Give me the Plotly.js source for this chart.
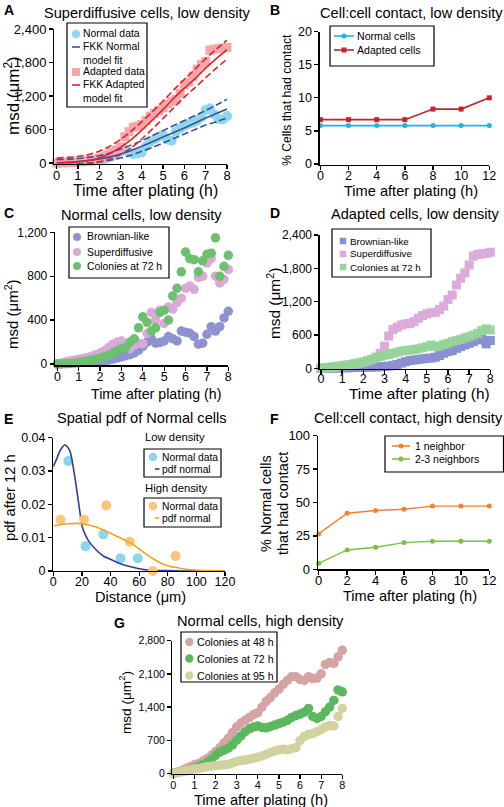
<!DOCTYPE html>
<html><head><meta charset="utf-8">
<script src="https://cdn.plot.ly/plotly-3.0.1.min.js"></script>
<style>html,body{margin:0;padding:0;background:#fff}#chart{width:504px;height:807px}</style>
</head><body><div id="chart"></div>
<script>
// ---------- DATA ----------
const TIME = [0,0.2,0.4,0.6,0.8,1,1.2,1.4,1.6,1.8,2,2.2,2.4,2.6,2.8,3,3.2,3.4,3.6,3.8,4,4.2,4.4,4.6,4.8,5,5.2,5.4,5.6,5.8,6,6.2,6.4,6.6,6.8,7,7.2,7.4,7.6,7.8,8];
// Panel A
const A_normal  = [0,5,10,12,15,20,25,30,35,45,55,70,90,120,160,210,240,200,160,170,190,300,380,420,470,500,420,400,560,620,670,700,720,760,820,950,980,870,790,780,840];
const A_adapted = [0,5,10,15,20,25,30,40,50,65,90,110,150,190,230,290,470,560,640,660,690,760,840,890,940,990,1060,1100,1140,1250,1400,1450,1550,1680,1760,1820,2020,2040,2050,2060,2070];
const FIT_TIME  = [0,0.5,1,1.5,2,2.5,3,3.5,4,4.5,5,5.5,6,6.5,7,7.5,8];
const A_normFit   = [5,12,25,45,72,110,161,225,299,380,466,545,627,715,806,885,967];
const A_normUpper = [60,65,80,100,130,180,250,320,400,490,580,670,760,850,940,1040,1140];
const A_normLower = [-40,-30,-20,0,20,50,90,140,210,280,360,440,520,600,680,740,806];
const A_adFit     = [5,10,20,45,90,170,280,420,590,770,960,1160,1340,1510,1700,1870,2030];
const A_adUpper   = [90,100,120,150,210,300,420,570,740,920,1110,1310,1500,1680,1870,2040,2200];
const A_adLower   = [-40,-40,-30,-10,20,70,150,270,430,610,800,990,1180,1350,1530,1700,1860];
// Panel B
const B_time    = [0,2,4,6,8,10,12];
const B_normal  = [5.8,5.8,5.8,5.8,5.8,5.8,5.8];
const B_adapted = [6.7,6.7,6.7,6.7,8.3,8.3,10.0];
// Panel C
const C_brownian = [0,2,5,8,10,12,15,18,20,22,25,30,35,45,55,65,75,85,100,125,160,200,230,190,195,210,250,230,210,300,290,280,250,180,190,270,340,300,340,420,480];
const C_superdiff = [0,10,20,28,35,42,50,58,70,85,100,120,150,180,200,210,170,140,170,190,185,280,470,400,490,370,520,500,560,600,690,710,680,790,800,920,960,800,740,770,860];
const C_colonies = [0,0,2,5,10,15,20,28,35,45,55,65,80,100,120,140,150,200,230,330,430,380,300,330,470,490,400,620,690,840,1020,960,950,840,940,1000,1010,1150,800,890,990];
// Panel D
const D_brownian = [0,0,2,4,6,8,10,12,14,16,18,20,22,25,28,32,40,55,70,95,120,140,150,160,170,180,185,200,230,270,300,320,360,390,420,450,480,510,520,440,500];
const D_superdiff = [0,5,10,20,30,45,55,65,75,90,110,130,160,200,270,400,580,700,740,780,800,810,840,900,950,980,1000,1010,1060,1120,1240,1320,1500,1620,1720,1860,2020,2050,2060,2070,2090];
const D_colonies = [0,10,20,30,40,50,60,70,85,100,115,135,160,185,210,235,250,270,290,310,320,330,340,350,370,390,420,390,400,430,450,480,500,520,550,570,600,630,680,710,690];
// Panel E
const E_lowX  = [10.5,22.5,35,47,59];
const E_lowY  = [0.033,0.0074,0.011,0.0038,0.0038];
const E_highX = [5,21.5,37,53.5,69.5,85.5];
const E_highY = [0.0154,0.0154,0.0197,0.0088,0,0.0045];
const E_lowPdfX = [0,2.5,5,8,10,12,14,16,18,20,22,25,30,35,40,45,50,60,70,80,90,100,110,120];
const E_lowPdfY = [0.0313,0.0338,0.0363,0.0378,0.0372,0.0355,0.031,0.0255,0.0195,0.0137,0.0112,0.0088,0.0063,0.0045,0.0035,0.0025,0.0017,0.0007,0.0002,0.0001,0,0,0,0];
const E_highPdfX = [0,10,20,30,40,45,50,55,60,65,70,75,80,85,90,100,110,120];
const E_highPdfY = [0.0136,0.0142,0.0142,0.0132,0.0113,0.0103,0.0093,0.0082,0.0066,0.005,0.0036,0.0024,0.0016,0.0011,0.0007,0.0003,0.0001,0];
// Panel F
const F_time = [0,2,4,6,8,10,12];
const F_one  = [26.5,42,44,45,47.3,47.3,47.3];
const F_two  = [4.5,14.5,16.5,20,21,21,21];
// Panel G
const G_48 = [0,30,60,100,140,180,210,260,310,380,460,540,640,740,860,980,1060,1120,1180,1240,1280,1400,1520,1600,1700,1780,1880,1960,2040,2040,1980,1960,2040,2000,2010,2100,2300,2340,2320,2460,2600];
const G_72 = [0,15,35,55,80,105,140,180,230,290,380,450,490,530,600,700,790,880,940,980,1000,970,960,990,1020,1050,1080,1120,1180,1220,1250,1290,1370,1200,1160,1200,1300,1400,1540,1760,1720];
const G_95 = [0,20,40,60,75,90,100,120,140,150,160,170,180,190,220,250,270,280,300,320,340,370,400,440,470,500,510,500,520,540,690,780,820,840,880,920,980,1010,1000,1200,1370];

// ---------- HELPERS ----------
const W = 504, H = 807;
const FONT = '"Liberation Sans", Arial, Helvetica, sans-serif';
const PX = p => p / W, PY = p => 1 - p / H;
const xd = (l, r) => [l / W, r / W];
const yd = (t, b) => [1 - b / H, 1 - t / H];

function baseAxis(range, dtick, tsize, anchor) {
  return {range: range, dtick: dtick, tick0: 0, anchor: anchor,
    showline: true, linecolor: '#000', linewidth: 1.3, ticks: 'outside', ticklen: 4, tickwidth: 1.3, tickcolor: '#000',
    showgrid: false, zeroline: false, fixedrange: true,
    tickfont: {family: FONT, size: tsize, color: '#000', weight: 'normal'}};
}
function xAxis(dom, range, dtick, tsize, anchor, lstand) {
  const a = baseAxis(range, dtick, tsize, anchor);
  a.domain = xd(dom[0], dom[1]);
  a.ticklabelstandoff = lstand || 0;
  return a;
}
function yAxis(dom, range, dtick, tsize, anchor, fmt) {
  const a = baseAxis(range, dtick, tsize, anchor);
  a.domain = yd(dom[0], dom[1]);
  if (fmt) a.tickformat = fmt;
  return a;
}
function sc(x, y, xa, ya, name, marker, extra) {
  return Object.assign({type: 'scatter', mode: 'markers', x: x, y: y, xaxis: xa, yaxis: ya, name: name,
    marker: marker, cliponaxis: false, hoverinfo: 'skip'}, extra || {});
}
function ln(x, y, xa, ya, name, color, dash) {
  return {type: 'scatter', mode: 'lines', x: x, y: y, xaxis: xa, yaxis: ya, name: name,
    line: {color: color, width: 1.6, dash: dash || 'solid', shape: 'spline', smoothing: 0.6}, hoverinfo: 'skip'};
}

const TT = 'Time after plating (h)';
const MSD = 'msd (μm<sup>2</sup>)';

// colours
const cyanA = '#8fd7eb', pinkA = '#f5a6ab', blueA = '#3a50a2', redA = '#e3232a';
const cyanB = '#1db4de', redB = '#c0262d';
const brC = '#8e92d1', suC = '#dba9d8', coC = '#6cc06f';
const brD = '#8b90d3', suD = '#dcaadb', coD = '#95d498';
const cyE = '#8bd6ec', orE = '#fbc57a', blE = '#2f3f93', olE = '#f6a11a';
const orF = '#f4822f', grF = '#79c043';
const g48 = '#d6a3a5', g72 = '#5cb85f', g95 = '#d2d1a0';

const traces = [];
// A
traces.push(sc(TIME, A_normal, 'x', 'y', 'Normal data', {symbol: 'circle', size: 10, color: cyanA}));
traces.push(sc(TIME, A_adapted, 'x', 'y', 'Adapted data', {symbol: 'square', size: 9, color: pinkA}));
traces.push(ln(FIT_TIME, A_normFit, 'x', 'y', 'FKK Normal model fit', blueA));
traces.push(ln(FIT_TIME, A_normUpper, 'x', 'y', 'FKK Normal upper', blueA, '7px,3px'));
traces.push(ln(FIT_TIME, A_normLower, 'x', 'y', 'FKK Normal lower', blueA, '7px,3px'));
traces.push(ln(FIT_TIME, A_adFit, 'x', 'y', 'FKK Adapted model fit', redA));
traces.push(ln(FIT_TIME, A_adUpper, 'x', 'y', 'FKK Adapted upper', redA, '7px,3px'));
traces.push(ln(FIT_TIME, A_adLower, 'x', 'y', 'FKK Adapted lower', redA, '7px,3px'));
// B
traces.push(sc(B_time, B_normal, 'x2', 'y2', 'Normal cells', {symbol: 'circle', size: 5, color: cyanB},
  {mode: 'lines+markers', line: {color: cyanB, width: 1.6}}));
traces.push(sc(B_time, B_adapted, 'x2', 'y2', 'Adapted cells', {symbol: 'square', size: 5, color: redB},
  {mode: 'lines+markers', line: {color: redB, width: 1.6}}));
// C
traces.push(sc(TIME, C_brownian, 'x3', 'y3', 'Brownian-like', {symbol: 'circle', size: 9.5, color: brC}));
traces.push(sc(TIME, C_superdiff, 'x3', 'y3', 'Superdiffusive', {symbol: 'circle', size: 9.5, color: suC}));
traces.push(sc(TIME, C_colonies, 'x3', 'y3', 'Colonies at 72 h', {symbol: 'circle', size: 9.5, color: coC}));
// D
traces.push(sc(TIME, D_brownian, 'x4', 'y4', 'Brownian-like', {symbol: 'square', size: 9, color: brD}));
traces.push(sc(TIME, D_superdiff, 'x4', 'y4', 'Superdiffusive', {symbol: 'square', size: 9, color: suD}));
traces.push(sc(TIME, D_colonies, 'x4', 'y4', 'Colonies at 72 h', {symbol: 'square', size: 9, color: coD, opacity: 0.9}));
// E
traces.push(sc(E_lowX, E_lowY, 'x5', 'y5', 'Normal data (low density)', {symbol: 'circle', size: 10, color: cyE}));
traces.push(ln(E_lowPdfX, E_lowPdfY, 'x5', 'y5', 'pdf normal (low density)', blE));
traces.push(sc(E_highX, E_highY, 'x5', 'y5', 'Normal data (high density)', {symbol: 'circle', size: 10, color: orE}));
traces.push(ln(E_highPdfX, E_highPdfY, 'x5', 'y5', 'pdf normal (high density)', olE));
// F
traces.push(sc(F_time, F_one, 'x6', 'y6', '1 neighbor', {symbol: 'circle', size: 5, color: orF},
  {mode: 'lines+markers', line: {color: orF, width: 1.4}}));
traces.push(sc(F_time, F_two, 'x6', 'y6', '2-3 neighbors', {symbol: 'circle', size: 5, color: grF},
  {mode: 'lines+markers', line: {color: grF, width: 1.4}}));
// G
traces.push(sc(TIME, G_48, 'x7', 'y7', 'Colonies at 48 h', {symbol: 'circle', size: 9.5, color: g48}));
traces.push(sc(TIME, G_72, 'x7', 'y7', 'Colonies at 72 h', {symbol: 'circle', size: 9.5, color: g72}));
traces.push(sc(TIME, G_95, 'x7', 'y7', 'Colonies at 95 h', {symbol: 'circle', size: 9.5, color: g95}));

// ---------- TEXT, AXIS TITLES & LEGEND BOXES ----------
function ann(text, x, y, size, opts) {
  return Object.assign({text: text, x: PX(x), y: PY(y), xref: 'paper', yref: 'paper', showarrow: false,
    xanchor: 'center', yanchor: 'middle', font: {family: FONT, size: size, color: '#000', weight: 'normal'}}, opts || {});
}
const ROT = {textangle: -90};
const annotations = [
  // panel letters
  ann('<b>A</b>', 2, 10, 14, {xanchor: 'left'}),
  ann('<b>B</b>', 268, 10, 14, {xanchor: 'left'}),
  ann('<b>C</b>', 2, 213, 14, {xanchor: 'left'}),
  ann('<b>D</b>', 268, 213, 14, {xanchor: 'left'}),
  ann('<b>E</b>', 2, 419, 14, {xanchor: 'left'}),
  ann('<b>F</b>', 268, 419, 14, {xanchor: 'left'}),
  ann('<b>G</b>', 112, 623, 14, {xanchor: 'left'}),
  // panel titles
  ann('Superdiffusive cells, low density', 147, 13, 14.6),
  ann('Cell:cell contact, low density', 411, 13, 14.6),
  ann('Normal cells, low density', 141, 215, 14.6),
  ann('Adapted cells, low density', 415, 214, 14.6),
  ann('Spatial pdf of Normal cells', 142, 418, 14.6),
  ann('Cell:cell contact, high density', 408, 418, 14.6),
  ann('Normal cells, high density', 260, 621, 14.6),
  // x-axis titles
  ann(TT, 145, 190.5, 15.8),
  ann(TT, 411, 191, 14.6),
  ann(TT, 156, 394, 14.2),
  ann(TT, 419, 393.5, 15.3),
  ann('Distance (μm)', 140, 596.5, 14.6),
  ann(TT, 410, 596, 14.6),
  ann(TT, 261, 799.5, 14.6),
  // y-axis titles
  ann(MSD, 12, 96, 17, ROT),
  ann('% Cells that had contact', 287, 100, 12.2, ROT),
  ann(MSD, 11, 315, 15, ROT),
  ann(MSD, 273, 304, 15.4, ROT),
  ann('pdf after 12 h', 10, 498, 14.7, ROT),
  ann('% Normal cells', 266, 504, 14.5, ROT),
  ann('that had contact', 283, 504, 14.5, ROT),
  ann(MSD, 125, 703, 13.6, ROT),
  // panel E legend headers
  ann('Low density', 143, 437, 11.3, {xanchor: 'left'}),
  ann('High density', 143, 488, 11.3, {xanchor: 'left'})
];
const shapes = [];

// legend: box [x0,y0,x1,y1] in px, items with symbol and label
function legend(box, fsize, items) {
  shapes.push({type: 'rect', xref: 'paper', yref: 'paper', x0: PX(box[0]), x1: PX(box[2]), y0: PY(box[1]), y1: PY(box[3]),
    line: {color: '#000', width: 1.2}, fillcolor: '#fff', layer: 'above'});
  items.forEach(it => {
    const s = it.size || 8;
    if (it.sym === 'line' || it.sym === 'linecircle' || it.sym === 'linesquare') {
      shapes.push({type: 'line', xref: 'paper', yref: 'paper', x0: PX(it.lx[0]), x1: PX(it.lx[1]), y0: PY(it.cy), y1: PY(it.cy),
        line: {color: it.color, width: 1.6}, layer: 'above'});
    }
    if (it.sym === 'circle' || it.sym === 'linecircle') {
      shapes.push({type: 'circle', xref: 'paper', yref: 'paper', x0: PX(it.cx - s / 2), x1: PX(it.cx + s / 2),
        y0: PY(it.cy + s / 2), y1: PY(it.cy - s / 2), line: {width: 0}, fillcolor: it.color, layer: 'above'});
    }
    if (it.sym === 'square' || it.sym === 'linesquare') {
      shapes.push({type: 'rect', xref: 'paper', yref: 'paper', x0: PX(it.cx - s / 2), x1: PX(it.cx + s / 2),
        y0: PY(it.cy + s / 2), y1: PY(it.cy - s / 2), line: {width: 0}, fillcolor: it.color, layer: 'above'});
    }
    annotations.push(ann(it.text, it.tx - 2, it.ty || it.cy, fsize, {xanchor: 'left', align: 'left'}));
  });
}
// A
legend([67, 23, 147, 107], 10.4, [
  {sym: 'circle', color: cyanA, cx: 76, cy: 34, size: 8.5, tx: 83, text: 'Normal data'},
  {sym: 'line', color: blueA, lx: [72, 80], cy: 47, tx: 83, ty: 53.5, text: 'FKK Normal<br>model fit'},
  {sym: 'square', color: pinkA, cx: 76, cy: 72, size: 8, tx: 83, text: 'Adapted data'},
  {sym: 'line', color: redA, lx: [72, 80], cy: 85, tx: 83, ty: 91.5, text: 'FKK Adapted<br>model fit'}
]);
// B
legend([330, 26, 434, 66], 10.6, [
  {sym: 'linecircle', color: cyanB, lx: [334, 354], cx: 344, cy: 36, size: 5, tx: 357, text: 'Normal cells'},
  {sym: 'linesquare', color: redB, lx: [334, 354], cx: 344, cy: 50, size: 5, tx: 357, text: 'Adapted cells'}
]);
// C
legend([69, 227, 169, 278], 10.4, [
  {sym: 'circle', color: brC, cx: 77, cy: 237, size: 8, tx: 87, text: 'Brownian-like'},
  {sym: 'circle', color: suC, cx: 77, cy: 252, size: 8, tx: 87, text: 'Superdiffusive'},
  {sym: 'circle', color: coC, cx: 77, cy: 266, size: 8, tx: 87, text: 'Colonies at 72 h'}
]);
// D
legend([332, 229, 431, 277], 9.8, [
  {sym: 'square', color: brD, cx: 343, cy: 241, size: 6.5, tx: 350, text: 'Brownian-like'},
  {sym: 'square', color: suD, cx: 343, cy: 254, size: 6.5, tx: 350, text: 'Superdiffusive'},
  {sym: 'square', color: coD, cx: 343, cy: 267, size: 6.5, tx: 350, text: 'Colonies at 72 h'}
]);
// E (two boxes)
legend([144, 449, 221, 477], 10.3, [
  {sym: 'circle', color: cyE, cx: 153, cy: 457, size: 8.5, tx: 162, text: 'Normal data'},
  {sym: 'line', color: blE, lx: [155, 159.5], cy: 469, tx: 162, text: 'pdf normal'}
]);
legend([144, 498, 221, 527], 10.3, [
  {sym: 'circle', color: orE, cx: 153, cy: 506, size: 8.5, tx: 162, text: 'Normal data'},
  {sym: 'line', color: olE, lx: [155, 159.5], cy: 518, tx: 162, text: 'pdf normal'}
]);
// F
legend([385, 436, 503.5, 472], 10.5, [
  {sym: 'linecircle', color: orF, lx: [392, 410], cx: 401, cy: 446, size: 5, tx: 415, text: '1 neighbor'},
  {sym: 'linecircle', color: grF, lx: [392, 410], cx: 401, cy: 459, size: 5, tx: 415, text: '2-3 neighbors'}
]);
// G
legend([181, 632, 277, 682], 10.6, [
  {sym: 'circle', color: g48, cx: 189.3, cy: 642, size: 8.3, tx: 197, text: 'Colonies at 48 h'},
  {sym: 'circle', color: g72, cx: 189.3, cy: 658.5, size: 8.3, tx: 197, text: 'Colonies at 72 h'},
  {sym: 'circle', color: g95, cx: 189.3, cy: 675.5, size: 8.3, tx: 197, text: 'Colonies at 95 h'}
]);

const layout = {
  width: W, height: H, margin: {l: 0, r: 0, t: 0, b: 0}, paper_bgcolor: '#fff', plot_bgcolor: 'rgba(0,0,0,0)',
  font: {family: FONT, color: '#000'}, hovermode: false, showlegend: false,
  xaxis:  xAxis([54.3, 227], [-0.11, 8], 1, 13, 'y', -5),
  yaxis:  yAxis([29, 164], [-18, 2400], 600, 13, 'x', ',d'),
  xaxis2: xAxis([319.7, 489.3], [-0.05, 12], 2, 12.5, 'y2', -5),
  yaxis2: yAxis([31.7, 164.5], [-0.08, 20], 5, 12.5, 'x2'),
  xaxis3: xAxis([55, 228.3], [-0.11, 8], 1, 12.5, 'y3', -5),
  yaxis3: yAxis([232.3, 365.3], [-12, 1200], 400, 12, 'x3', ',d'),
  xaxis4: xAxis([319.7, 490.3], [-0.06, 8], 1, 12.5, 'y4', -6),
  yaxis4: yAxis([235, 369], [-12, 2400], 600, 12, 'x4', ',d'),
  xaxis5: xAxis([53.3, 225], [0, 120], 20, 12.5, 'y5', -5),
  yaxis5: yAxis([437.7, 571], [0, 0.04], 0.01, 12.5, 'x5'),
  xaxis6: xAxis([318, 489.3], [-0.05, 12], 2, 13, 'y6', -5),
  yaxis6: yAxis([435.7, 569.3], [0, 100], 25, 13, 'x6'),
  xaxis7: xAxis([172.3, 342.3], [-0.05, 8], 1, 10.8, 'y7', -3),
  yaxis7: yAxis([640.7, 774], [-14, 2800], 700, 10.5, 'x7', ',d'),
  annotations: annotations,
  shapes: shapes
};

Plotly.newPlot('chart', traces, layout, {staticPlot: true, displayModeBar: false});
</script></body></html>
